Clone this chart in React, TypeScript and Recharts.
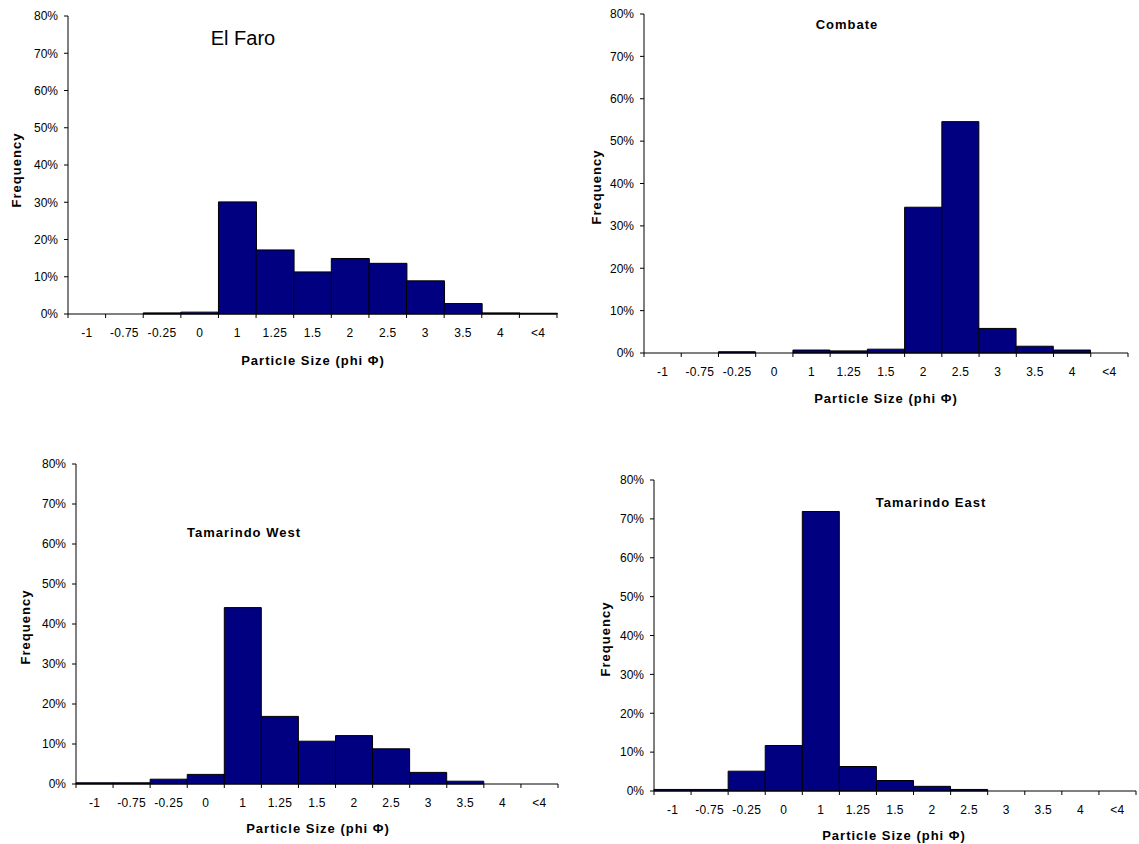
import { BarChart, Bar, XAxis, YAxis } from "recharts";

const sizeLabels = ["-1", "-0.75", "-0.25", "0", "1", "1.25", "1.5", "2", "2.5", "3", "3.5", "4", "<4"];
const yTicks = [0, 10, 20, 30, 40, 50, 60, 70, 80];

// frequency in %, one value per size class
const elFaro = [0, 0, 0.3, 0.5, 30.1, 17.2, 11.3, 14.9, 13.6, 8.9, 2.8, 0.3, 0.2];
const combate = [0, 0, 0.3, 0, 0.7, 0.5, 0.9, 34.4, 54.6, 5.8, 1.6, 0.7, 0];
const tamarindoWest = [0.3, 0.3, 1.2, 2.4, 44.1, 16.9, 10.7, 12.1, 8.8, 2.9, 0.7, 0, 0];
const tamarindoEast = [0.4, 0.4, 5.1, 11.7, 71.9, 6.3, 2.7, 1.2, 0.4, 0, 0, 0, 0];

const FONT = '"Liberation Sans", Arial, sans-serif';
const NAVY = "#000080";

const toRows = (values: number[]) => sizeLabels.map((size, i) => ({ size, freq: values[i] }));

type Box = { left: number; top: number; right: number; bottom: number };

const BoundaryTick = (props: any) => {
  const { x, y, payload, index, bandWidth } = props;
  const half = bandWidth / 2;
  return (
    <g>
      <line x1={x - half} x2={x - half} y1={y} y2={y + 4} stroke="#000" />
      {index === sizeLabels.length - 1 && <line x1={x + half} x2={x + half} y1={y} y2={y + 4} stroke="#000" />}
      <text
        x={x}
        y={y + 19}
        textAnchor="middle"
        dominantBaseline="central"
        fontSize={12}
        letterSpacing={0.3}
        fill="#000"
        fontFamily={FONT}
      >
        {payload.value}
      </text>
    </g>
  );
};

const TextAt = ({ x, y, children, size = 13, bold = true, rotate = false, spacing = 1 }: any) => (
  <div
    style={{
      position: "absolute",
      left: x,
      top: y,
      transform: `translate(-50%, -50%)${rotate ? " rotate(-90deg)" : ""}`,
      whiteSpace: "nowrap",
      fontFamily: FONT,
      fontSize: size,
      fontWeight: bold ? 700 : 400,
      letterSpacing: spacing,
      color: "#000",
      lineHeight: 1,
    }}
  >
    {children}
  </div>
);

const Histogram = ({ values, box }: { values: number[]; box: Box }) => {
  const plotW = box.right - box.left;
  const plotH = box.bottom - box.top;
  const bandWidth = plotW / sizeLabels.length;
  return (
    <div style={{ position: "absolute", left: box.left - 60, top: box.top - 10 }}>
      <BarChart
        width={plotW + 62}
        height={plotH + 40}
        data={toRows(values)}
        margin={{ top: 10, right: 2, left: 0, bottom: 0 }}
        barCategoryGap={0}
      >
        <XAxis
          dataKey="size"
          height={30}
          interval={0}
          tickSize={0}
          tickMargin={0}
          tickLine={false}
          axisLine={{ stroke: "#000" }}
          tick={<BoundaryTick bandWidth={bandWidth} />}
        />
        <YAxis
          width={60}
          domain={[0, 80]}
          ticks={yTicks}
          tickSize={4}
          tickMargin={6}
          tickFormatter={(v) => `${v}%`}
          axisLine={{ stroke: "#000" }}
          tickLine={{ stroke: "#000" }}
          tick={{ fontSize: 12, fill: "#000", fontFamily: FONT }}
        />
        <Bar dataKey="freq" fill={NAVY} stroke="#000" strokeWidth={1} isAnimationActive={false} />
      </BarChart>
    </div>
  );
};

export default function App() {
  return (
    <div style={{ position: "absolute", left: 0, top: 0, width: 1139, height: 844, overflow: "hidden", background: "#fff" }}>
      <Histogram values={elFaro} box={{ left: 68, top: 16, right: 557, bottom: 314 }} />
      <TextAt x={243} y={38} size={20} bold={false} spacing={0}>El Faro</TextAt>
      <TextAt x={16} y={170} rotate>Frequency</TextAt>
      <TextAt x={313} y={360}>Particle Size (phi Φ)</TextAt>

      <Histogram values={combate} box={{ left: 644, top: 14, right: 1128, bottom: 353 }} />
      <TextAt x={847} y={24}>Combate</TextAt>
      <TextAt x={596} y={187} rotate>Frequency</TextAt>
      <TextAt x={886} y={398}>Particle Size (phi Φ)</TextAt>

      <Histogram values={tamarindoWest} box={{ left: 76, top: 464, right: 558, bottom: 784 }} />
      <TextAt x={244} y={532}>Tamarindo West</TextAt>
      <TextAt x={25} y={627} rotate>Frequency</TextAt>
      <TextAt x={318} y={828}>Particle Size (phi Φ)</TextAt>

      <Histogram values={tamarindoEast} box={{ left: 654, top: 480, right: 1136, bottom: 791 }} />
      <TextAt x={931} y={502}>Tamarindo East</TextAt>
      <TextAt x={605} y={639} rotate>Frequency</TextAt>
      <TextAt x={894} y={835}>Particle Size (phi Φ)</TextAt>
    </div>
  );
}
